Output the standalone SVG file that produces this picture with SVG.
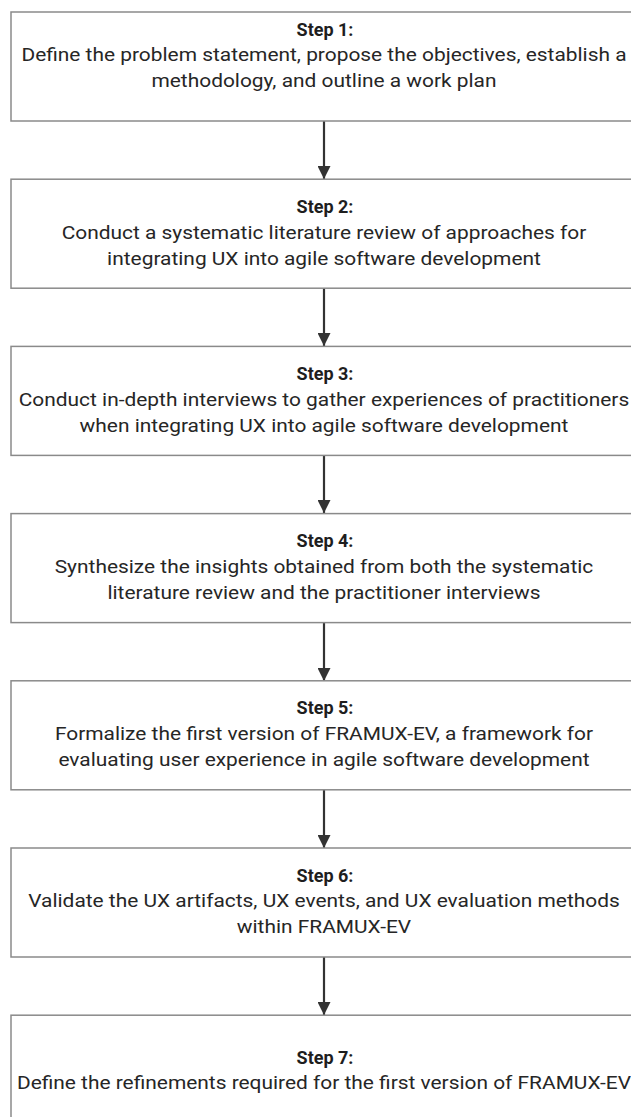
<svg xmlns="http://www.w3.org/2000/svg" width="631" height="1117" viewBox="0 0 631 1117">
<defs>
<style>
.box{fill:#fff;stroke:#8a8a8a;stroke-width:1.5}
.t{font-family:Roboto,"Liberation Sans",sans-serif;font-size:19px;fill:#262626;text-anchor:middle}
.b{font-family:Roboto,"Liberation Sans",sans-serif;font-weight:bold;font-size:18px;fill:#1e1e1e;text-anchor:middle}
.c{stroke:#333;stroke-width:2.2;fill:none}
</style>
<marker id="ah" markerWidth="13" markerHeight="13" viewBox="0 0 13 13" refX="13" refY="6.5" orient="auto" markerUnits="userSpaceOnUse">
<path d="M0,0 L13,6.5 L0,13 z" fill="#333"/>
</marker>
</defs>
<g id="connectors">
<line class="c" x1="324" y1="121" x2="324" y2="179" marker-end="url(#ah)"/>
<line class="c" x1="324" y1="288" x2="324" y2="346" marker-end="url(#ah)"/>
<line class="c" x1="324" y1="455" x2="324" y2="513" marker-end="url(#ah)"/>
<line class="c" x1="324" y1="622" x2="324" y2="681" marker-end="url(#ah)"/>
<line class="c" x1="324" y1="790" x2="324" y2="848" marker-end="url(#ah)"/>
<line class="c" x1="324" y1="957" x2="324" y2="1015" marker-end="url(#ah)"/>
</g>
<g id="step1">
<rect class="box" x="11" y="12" width="626" height="109"/>
<text class="b" x="325" y="36">Step 1:</text>
<g transform="translate(324 0) scale(1.1 1) translate(-324 0)">
<text class="t" x="324" y="61">Define the problem statement, propose the objectives, establish a</text>
<text class="t" x="324" y="87">methodology, and outline a work plan</text>
</g>
</g>
<g id="step2">
<rect class="box" x="11" y="179.2" width="626" height="109"/>
<text class="b" x="325" y="212.7">Step 2:</text>
<g transform="translate(324 0) scale(1.1 1) translate(-324 0)">
<text class="t" x="324" y="238.7">Conduct a systematic literature review of approaches for</text>
<text class="t" x="324" y="264.7">integrating UX into agile software development</text>
</g>
</g>
<g id="step3">
<rect class="box" x="11" y="346.4" width="626" height="109"/>
<text class="b" x="325" y="379.9">Step 3:</text>
<g transform="translate(324 0) scale(1.1 1) translate(-324 0)">
<text class="t" x="324" y="405.9">Conduct in-depth interviews to gather experiences of practitioners</text>
<text class="t" x="324" y="431.9">when integrating UX into agile software development</text>
</g>
</g>
<g id="step4">
<rect class="box" x="11" y="513.6" width="626" height="109"/>
<text class="b" x="325" y="547.1">Step 4:</text>
<g transform="translate(324 0) scale(1.1 1) translate(-324 0)">
<text class="t" x="324" y="573.1">Synthesize the insights obtained from both the systematic</text>
<text class="t" x="324" y="599.1">literature review and the practitioner interviews</text>
</g>
</g>
<g id="step5">
<rect class="box" x="11" y="680.8" width="626" height="109"/>
<text class="b" x="325" y="714.3">Step 5:</text>
<g transform="translate(324 0) scale(1.1 1) translate(-324 0)">
<text class="t" x="324" y="740.3">Formalize the first version of FRAMUX-EV, a framework for</text>
<text class="t" x="324" y="766.3">evaluating user experience in agile software development</text>
</g>
</g>
<g id="step6">
<rect class="box" x="11" y="848" width="626" height="109"/>
<text class="b" x="325" y="881.5">Step 6:</text>
<g transform="translate(324 0) scale(1.1 1) translate(-324 0)">
<text class="t" x="324" y="907.5">Validate the UX artifacts, UX events, and UX evaluation methods</text>
<text class="t" x="324" y="933.5">within FRAMUX-EV</text>
</g>
</g>
<g id="step7">
<rect class="box" x="11" y="1015.2" width="626" height="140"/>
<text class="b" x="325" y="1064">Step 7:</text>
<g transform="translate(324 0) scale(1.1 1) translate(-324 0)">
<text class="t" x="324" y="1089">Define the refinements required for the first version of FRAMUX-EV</text>
</g>
</g>
</svg>
